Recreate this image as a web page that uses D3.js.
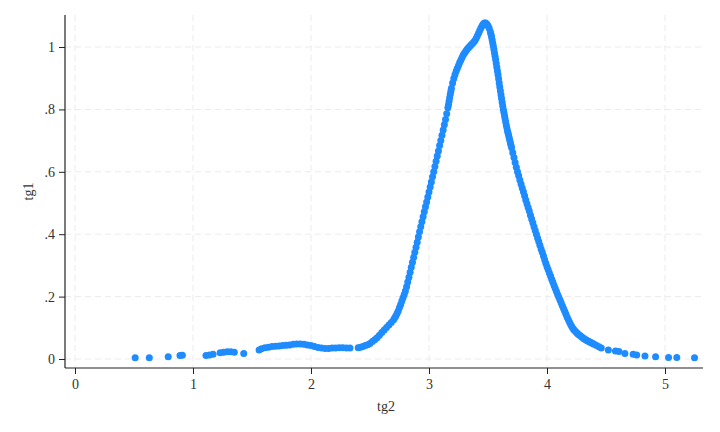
<!DOCTYPE html>
<html>
<head>
<meta charset="utf-8">
<script src="https://cdn.jsdelivr.net/npm/d3@7"></script>
<style>
  body { margin: 0; background: #fff; }
  svg { display: block; font-family: "Liberation Serif", "DejaVu Serif", serif; }
</style>
</head>
<body>
<svg id="chart" width="720" height="432"></svg>
<script>
// tg2 / tg1 pairs, split by stretch of the curve
const tailLeft = [
  [0.51, 0.004], [0.63, 0.004], [0.79, 0.007], [0.89, 0.011], [0.91, 0.012],
  [1.11, 0.011], [1.14, 0.013], [1.17, 0.015], [1.23, 0.020], [1.26, 0.022],
  [1.29, 0.023], [1.32, 0.023], [1.35, 0.022], [1.43, 0.018]
];
const bump = [
  [1.56, 0.029], [1.58, 0.033], [1.61, 0.036], [1.64, 0.038], [1.67, 0.040],
  [1.70, 0.041], [1.73, 0.042], [1.76, 0.043], [1.79, 0.044], [1.82, 0.045],
  [1.85, 0.047], [1.88, 0.048], [1.91, 0.048], [1.94, 0.047], [1.97, 0.045],
  [2.00, 0.043], [2.03, 0.040], [2.06, 0.037], [2.09, 0.035], [2.12, 0.034],
  [2.15, 0.034], [2.18, 0.035], [2.21, 0.035], [2.24, 0.036], [2.27, 0.036],
  [2.30, 0.035], [2.33, 0.035]
];
const rise = [
  [2.40, 0.036], [2.42, 0.038], [2.44, 0.040], [2.46, 0.043], [2.48, 0.046],
  [2.50, 0.050], [2.52, 0.056], [2.54, 0.062], [2.56, 0.068], [2.58, 0.076],
  [2.60, 0.085], [2.62, 0.093], [2.64, 0.101], [2.66, 0.109], [2.68, 0.117],
  [2.70, 0.126], [2.71, 0.132], [2.72, 0.139], [2.73, 0.147], [2.74, 0.155],
  [2.75, 0.165], [2.76, 0.175], [2.77, 0.186], [2.78, 0.196], [2.79, 0.207],
  [2.80, 0.218], [2.81, 0.232], [2.82, 0.247], [2.83, 0.262], [2.84, 0.278],
  [2.85, 0.294], [2.86, 0.310], [2.87, 0.326], [2.88, 0.342], [2.89, 0.358],
  [2.90, 0.374], [2.91, 0.391], [2.92, 0.408], [2.93, 0.424], [2.94, 0.440],
  [2.95, 0.456], [2.96, 0.472], [2.97, 0.488], [2.98, 0.503], [2.99, 0.519],
  [3.00, 0.535], [3.01, 0.551], [3.02, 0.567], [3.03, 0.584], [3.04, 0.600],
  [3.05, 0.617], [3.06, 0.634], [3.07, 0.651], [3.08, 0.667], [3.09, 0.684],
  [3.10, 0.700], [3.11, 0.717], [3.12, 0.734], [3.13, 0.751], [3.14, 0.768],
  [3.15, 0.786], [3.16, 0.805], [3.165, 0.815], [3.17, 0.826], [3.175, 0.837],
  [3.18, 0.848], [3.185, 0.858], [3.19, 0.868], [3.20, 0.885], [3.21, 0.899],
  [3.22, 0.911], [3.23, 0.922], [3.24, 0.932], [3.25, 0.941], [3.26, 0.950],
  [3.27, 0.958], [3.28, 0.966], [3.29, 0.974], [3.30, 0.980], [3.31, 0.986],
  [3.32, 0.991], [3.33, 0.996], [3.34, 1.000], [3.35, 1.004], [3.36, 1.008],
  [3.37, 1.012], [3.38, 1.016], [3.39, 1.021], [3.40, 1.028], [3.41, 1.036],
  [3.42, 1.044], [3.43, 1.053], [3.44, 1.061], [3.45, 1.068], [3.46, 1.074],
  [3.47, 1.077]
];
const fall = [
  [3.48, 1.077], [3.49, 1.074], [3.50, 1.068], [3.51, 1.060], [3.52, 1.049],
  [3.525, 1.041], [3.53, 1.033], [3.535, 1.023], [3.54, 1.013], [3.545, 1.003],
  [3.55, 0.992], [3.555, 0.981], [3.56, 0.970], [3.565, 0.959], [3.57, 0.947],
  [3.575, 0.935], [3.58, 0.923], [3.585, 0.911], [3.59, 0.898], [3.595, 0.885],
  [3.60, 0.872], [3.605, 0.860], [3.61, 0.847], [3.615, 0.835], [3.62, 0.823],
  [3.625, 0.811], [3.63, 0.800], [3.635, 0.790], [3.64, 0.780], [3.645, 0.770],
  [3.65, 0.760], [3.655, 0.750], [3.66, 0.741], [3.665, 0.732], [3.67, 0.724],
  [3.675, 0.716], [3.68, 0.708], [3.685, 0.700], [3.69, 0.692], [3.695, 0.684],
  [3.70, 0.677], [3.71, 0.661], [3.72, 0.646],
  [3.73, 0.630], [3.74, 0.615], [3.75, 0.600], [3.76, 0.587], [3.77, 0.574],
  [3.78, 0.561], [3.79, 0.548], [3.80, 0.536], [3.81, 0.523], [3.82, 0.510],
  [3.83, 0.498], [3.84, 0.486], [3.85, 0.474], [3.86, 0.461], [3.87, 0.449],
  [3.88, 0.437], [3.89, 0.424], [3.90, 0.412], [3.91, 0.400], [3.92, 0.388],
  [3.93, 0.377], [3.94, 0.365], [3.95, 0.353], [3.96, 0.342], [3.97, 0.330],
  [3.98, 0.318], [3.99, 0.307], [4.00, 0.296], [4.01, 0.286], [4.02, 0.276],
  [4.03, 0.266], [4.04, 0.256], [4.05, 0.246], [4.06, 0.236], [4.07, 0.226],
  [4.08, 0.216], [4.09, 0.207], [4.10, 0.198], [4.11, 0.189], [4.12, 0.180],
  [4.13, 0.171], [4.14, 0.162], [4.15, 0.153], [4.16, 0.144], [4.17, 0.135],
  [4.18, 0.127], [4.19, 0.119], [4.20, 0.111], [4.21, 0.104], [4.22, 0.098],
  [4.23, 0.093], [4.24, 0.089], [4.25, 0.085], [4.26, 0.081], [4.27, 0.078],
  [4.28, 0.075], [4.29, 0.072], [4.30, 0.069], [4.31, 0.066], [4.32, 0.064],
  [4.33, 0.061], [4.34, 0.059], [4.35, 0.057], [4.36, 0.055], [4.37, 0.053],
  [4.38, 0.051], [4.39, 0.049], [4.40, 0.047], [4.42, 0.043], [4.44, 0.039],
  [4.46, 0.035]
];
const tailRight = [
  [4.52, 0.029], [4.58, 0.026], [4.61, 0.024], [4.66, 0.018], [4.73, 0.015],
  [4.76, 0.013], [4.83, 0.010], [4.92, 0.007], [5.03, 0.005], [5.10, 0.005],
  [5.25, 0.004]
];

const xTicks = [0, 1, 2, 3, 4, 5];
const yTicks = [0, 0.2, 0.4, 0.6, 0.8, 1];
const yTickLabels = ["0", ".2", ".4", ".6", ".8", "1"];
const xTitle = "tg2";
const yTitle = "tg1";

const svg = d3.select("#chart");
const plotL = 65, plotR = 703, plotT = 15, plotB = 368;

const x = d3.scaleLinear().domain([-0.0847, 5.322]).range([plotL, plotR]);
const y = d3.scaleLinear().domain([-0.0288, 1.1026]).range([plotB, plotT]);

// dashed grid
svg.append("g")
  .selectAll("line")
  .data(yTicks)
  .join("line")
  .attr("x1", plotL).attr("x2", plotR)
  .attr("y1", d => y(d)).attr("y2", d => y(d))
  .attr("stroke", "#ebebeb").attr("stroke-dasharray", "6,4");

svg.append("g")
  .selectAll("line")
  .data(xTicks)
  .join("line")
  .attr("x1", d => x(d)).attr("x2", d => x(d))
  .attr("y1", plotT).attr("y2", plotB)
  .attr("stroke", "#ebebeb").attr("stroke-dasharray", "6,4");

// points
const allPts = tailLeft.concat(bump, rise, fall, tailRight);
svg.append("g")
  .selectAll("circle")
  .data(allPts)
  .join("circle")
  .attr("cx", d => x(d[0]))
  .attr("cy", d => y(d[1]))
  .attr("r", 3.5)
  .attr("fill", "#1e8cff");

// axes
const xAxis = d3.axisBottom(x).tickValues(xTicks).tickSize(6).tickPadding(5).tickFormat(d3.format("d"));
const yAxis = d3.axisLeft(y).tickValues(yTicks).tickSize(6).tickPadding(4)
  .tickFormat((d, i) => yTickLabels[i]);

const gx = svg.append("g").attr("transform", `translate(0,${plotB})`).call(xAxis);
const gy = svg.append("g").attr("transform", `translate(${plotL},0)`).call(yAxis);

[gx, gy].forEach(g => {
  g.select(".domain").attr("stroke", "#222").attr("stroke-width", 1.2);
  g.selectAll(".tick line").attr("stroke", "#222");
  g.selectAll(".tick text").attr("fill", "#333")
    .style("font-family", "'Liberation Serif', serif").style("font-size", "14px");
});
gx.select(".domain").attr("d", `M${plotL},0H${plotR}`);
gy.select(".domain").attr("d", `M0,${plotT}V${plotB}`);

svg.append("text")
  .attr("x", (plotL + plotR) / 2 + 2).attr("y", 411)
  .attr("text-anchor", "middle")
  .attr("fill", "#333").style("font-size", "14px")
  .text(xTitle);

svg.append("text")
  .attr("transform", `translate(33,${(plotT + plotB) / 2}) rotate(-90)`)
  .attr("text-anchor", "middle")
  .attr("fill", "#333").style("font-size", "14px")
  .text(yTitle);
</script>
</body>
</html>
